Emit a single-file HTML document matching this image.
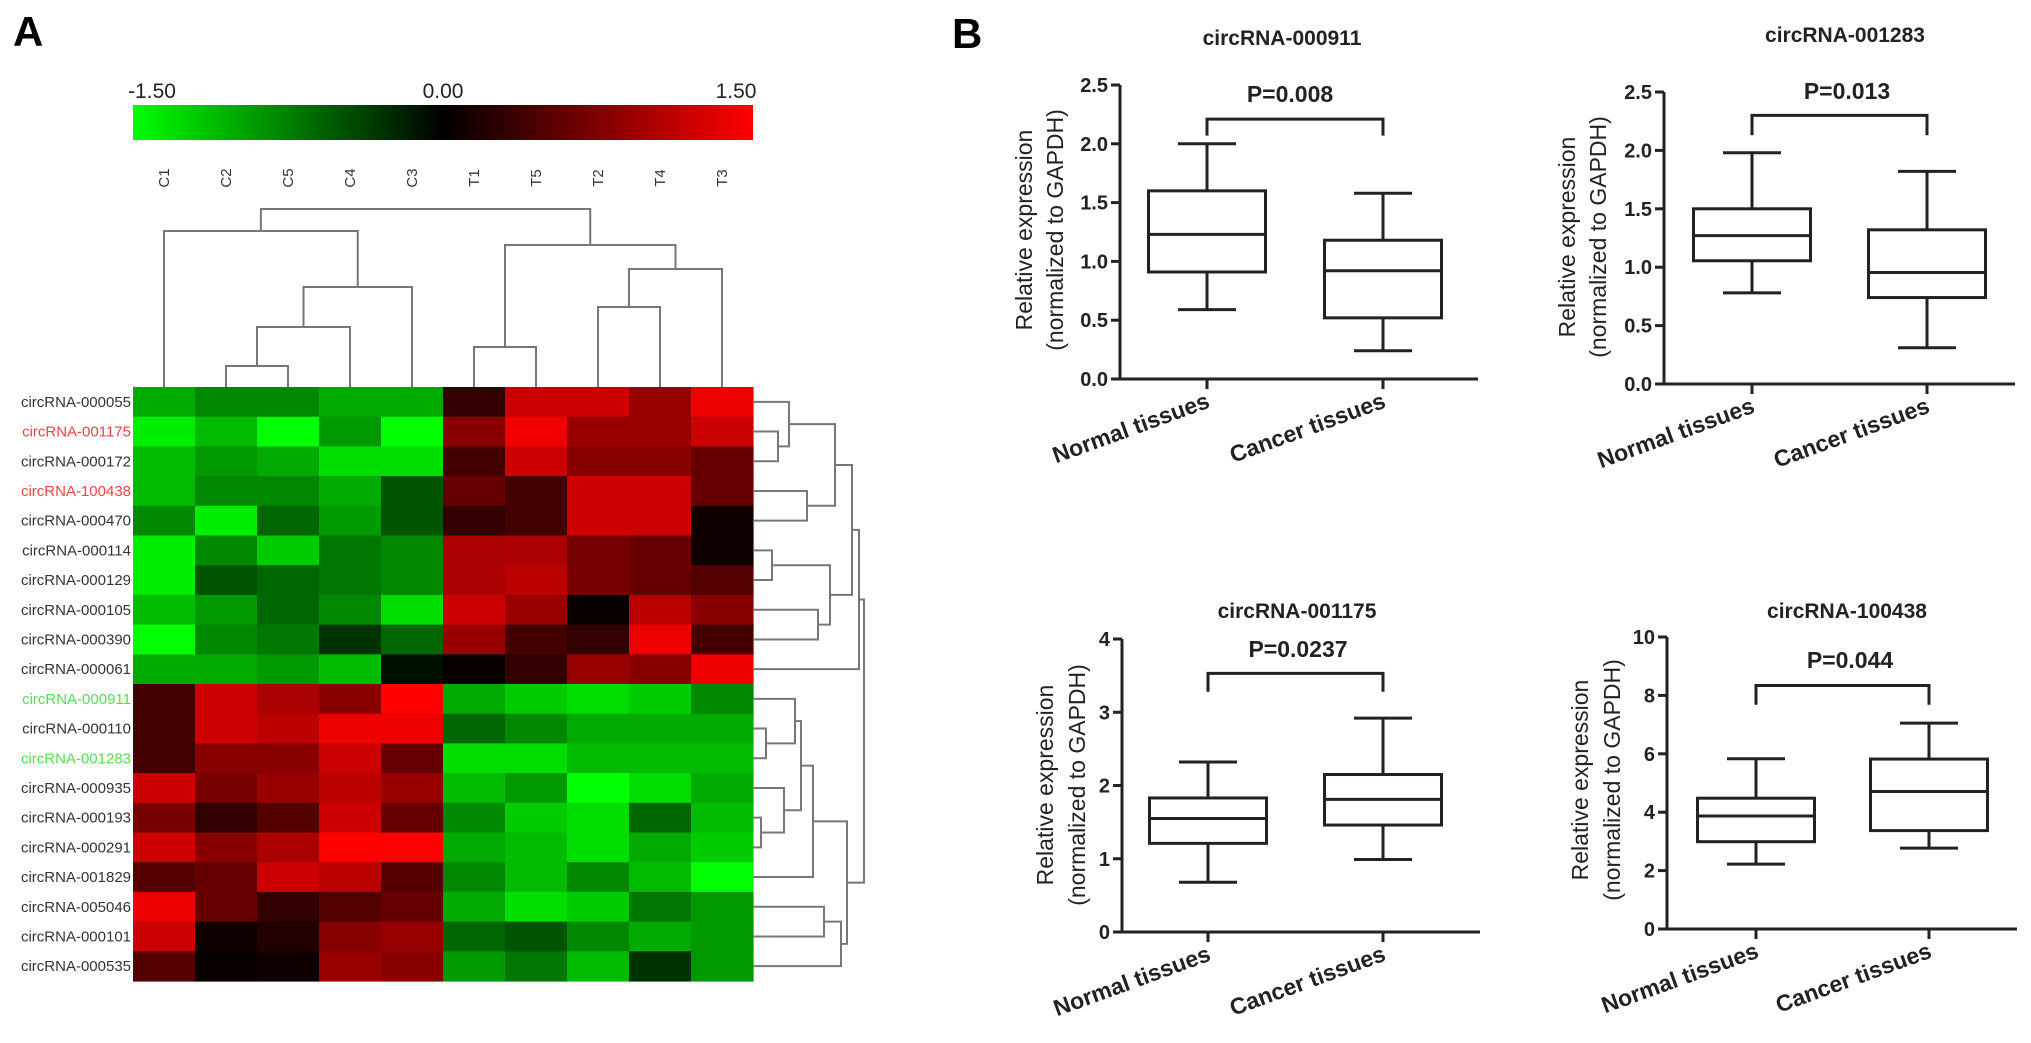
<!DOCTYPE html>
<html><head><meta charset="utf-8"><style>
html,body{margin:0;padding:0;background:#fff;}
svg{display:block;}
text{font-family:"Liberation Sans",Arial,sans-serif;}
</style></head>
<body>
<svg id="fig" width="2031" height="1043" viewBox="0 0 2031 1043" xmlns="http://www.w3.org/2000/svg">
<defs>
<linearGradient id="cbar" x1="0" x2="1" y1="0" y2="0">
<stop offset="0" stop-color="#00ff00"/><stop offset="0.5" stop-color="#000000"/><stop offset="1" stop-color="#ff0000"/>
</linearGradient>
</defs>
<text x="13" y="46" font-size="42" font-weight="bold">A</text>
<text x="952" y="48" font-size="42" font-weight="bold">B</text>
<g>
<rect x="133" y="105" width="620" height="35" fill="url(#cbar)"/>
<text x="152" y="98" font-size="21" text-anchor="middle" fill="#222">-1.50</text>
<text x="443" y="98" font-size="21" text-anchor="middle" fill="#222">0.00</text>
<text x="736" y="98" font-size="21" text-anchor="middle" fill="#222">1.50</text>
</g>
<g id="heat"></g>
<g id="boxes"></g>
</svg>
<script>
// ---------- Heatmap data ----------
const colNames = ["C1","C2","C5","C4","C3","T1","T5","T2","T4","T3"];
const rowNames = ["circRNA-000055","circRNA-001175","circRNA-000172","circRNA-100438","circRNA-000470","circRNA-000114","circRNA-000129","circRNA-000105","circRNA-000390","circRNA-000061","circRNA-000911","circRNA-000110","circRNA-001283","circRNA-000935","circRNA-000193","circRNA-000291","circRNA-001829","circRNA-005046","circRNA-000101","circRNA-000535"];
const rowColors = ["#333","#ee4444","#333","#ee4444","#333","#333","#333","#333","#333","#333","#55dd55","#333","#55dd55","#333","#333","#333","#333","#333","#333","#333"];
const heatValues = [
[-1.0,-0.8,-0.8,-1.0,-1.0,0.3,1.2,1.2,0.9,1.4],
[-1.4,-1.1,-1.5,-0.9,-1.5,0.8,1.4,0.9,0.9,1.2],
[-1.1,-0.9,-1.0,-1.3,-1.3,0.4,1.2,0.8,0.8,0.6],
[-1.1,-0.8,-0.8,-1.0,-0.5,0.6,0.4,1.2,1.2,0.6],
[-0.8,-1.4,-0.6,-0.9,-0.5,0.3,0.4,1.2,1.2,0.1],
[-1.4,-0.8,-1.2,-0.7,-0.8,1.0,1.0,0.7,0.6,0.1],
[-1.4,-0.5,-0.6,-0.7,-0.8,1.0,1.1,0.7,0.6,0.5],
[-1.1,-0.9,-0.6,-0.8,-1.3,1.2,0.9,0.05,1.1,0.8],
[-1.5,-0.8,-0.7,-0.3,-0.6,0.9,0.4,0.3,1.4,0.4],
[-1.0,-1.0,-0.9,-1.1,-0.1,0.05,0.3,0.9,0.8,1.4],
[0.4,1.2,1.0,0.8,1.5,-1.0,-1.2,-1.3,-1.2,-0.8],
[0.4,1.2,1.1,1.4,1.4,-0.6,-0.8,-1.0,-1.0,-1.0],
[0.4,0.8,0.8,1.2,0.6,-1.3,-1.3,-1.1,-1.1,-1.1],
[1.2,0.7,0.9,1.1,0.9,-1.1,-0.9,-1.5,-1.3,-1.0],
[0.7,0.3,0.5,1.2,0.6,-0.8,-1.2,-1.3,-0.6,-1.1],
[1.2,0.8,1.0,1.5,1.5,-1.0,-1.1,-1.3,-1.0,-1.2],
[0.5,0.6,1.2,1.1,0.5,-0.8,-1.1,-0.8,-1.1,-1.5],
[1.4,0.6,0.3,0.5,0.6,-1.0,-1.3,-1.2,-0.7,-0.9],
[1.2,0.1,0.2,0.8,0.9,-0.6,-0.5,-0.8,-1.0,-0.9],
[0.5,0.05,0.1,0.9,0.8,-0.9,-0.7,-1.1,-0.3,-0.9]
];
// dendrogram merges: [childA, childB] (leaf index or "n"+k), merge heights
const colMerges = [[1,2],["n0",3],["n1",4],[0,"n2"],[5,6],[7,8],["n5",9],["n4","n6"],["n3","n7"]];
const colHeights = [366,327,287,231,347,307,269,245,209];
const rowMerges = [[1,2],[0,"n0"],[3,4],["n1","n2"],[5,6],[7,8],["n4","n5"],["n3","n6"],["n7",9],[11,12],[10,"n9"],[14,15],[13,"n11"],["n10","n12"],["n13",16],[17,18],["n15",19],["n14","n16"],["n8","n17"]];
const rowHeights = [778,789,807,835,772,818,830,852,859,766,795,761,784,801,813,824,841,847,864];

// ---------- Box plot data ----------
const groupNames = ["Normal tissues","Cancer tissues"];
const panelTitles = ["circRNA-000911","circRNA-001283","circRNA-001175","circRNA-100438"];
const pLabels = ["P=0.008","P=0.013","P=0.0237","P=0.044"];
const normalStats = [[0.59,0.91,1.23,1.60,2.0],[0.78,1.055,1.27,1.50,1.98],[0.68,1.21,1.55,1.83,2.32],[2.22,2.99,3.87,4.48,5.83]];
const cancerStats = [[0.24,0.52,0.92,1.18,1.58],[0.31,0.74,0.955,1.32,1.82],[0.99,1.46,1.81,2.15,2.92],[2.77,3.37,4.71,5.82,7.05]];
const bracketTop = [2.21,2.30,3.53,8.34];
const bracketBottom = [2.07,2.13,3.28,7.68];
const yMax = [2.5,2.5,4,10];
const yTickValues = [[0,0.5,1,1.5,2,2.5],[0,0.5,1,1.5,2,2.5],[0,1,2,3,4],[0,2,4,6,8,10]];
const yTickLabels = [["0.0","0.5","1.0","1.5","2.0","2.5"],["0.0","0.5","1.0","1.5","2.0","2.5"],["0","1","2","3","4"],["0","2","4","6","8","10"]];

const NS="http://www.w3.org/2000/svg";
function mk(tag, attrs, parent){const e=document.createElementNS(NS,tag);for(const k in attrs)e.setAttribute(k,attrs[k]);parent.appendChild(e);return e;}

// ---------- Heatmap ----------
const heat=document.getElementById('heat');
const HX=133, HY=387, CW=62, RH=29.7;
const colX=i=>HX+CW*(i+0.5);
const rowY=i=>HY+RH*(i+0.5);
function colorOf(v){const t=Math.max(-1,Math.min(1,v/1.5));if(t<0)return `rgb(0,${Math.round(-t*255)},0)`;return `rgb(${Math.round(t*255)},0,0)`;}
heatValues.forEach((row,r)=>{
  row.forEach((v,c)=>{
    const cell=mk('rect',{x:HX+CW*c,y:HY+RH*r,width:CW+0.6,height:RH+0.6,fill:colorOf(v)},heat);
    
    
  });
  const t=mk('text',{x:HX-2,y:rowY(r)+5,'font-size':15,'text-anchor':'end',fill:rowColors[r]},heat);
  t.textContent=rowNames[r];
  
  
});
colNames.forEach((n,c)=>{
  const t=mk('text',{x:0,y:0,'font-size':15,'text-anchor':'middle',fill:'#333',transform:`translate(${colX(c)+5},178) rotate(-90)`},heat);
  t.textContent=n;
  
  
});
function drawTree(merges, heights, leafPos, base, vertical){
  const pos={};
  const get=k=>typeof k==='number'?{p:leafPos(k),h:base}:pos[k];
  merges.forEach((m,i)=>{
    const a=get(m[0]), b=get(m[1]), h=heights[i];
    let d;
    if(vertical){ d=`M${a.p},${a.h}V${h}H${b.p}V${b.h}`; }
    else { d=`M${a.h},${a.p}H${h}V${b.p}H${b.h}`; }
    const p=mk('path',{d:d,fill:'none',stroke:'#777','stroke-width':2},heat);
    
    
    pos['n'+i]={p:(a.p+b.p)/2,h:h};
  });
}
drawTree(colMerges,colHeights,colX,HY,true);
drawTree(rowMerges,rowHeights,rowY,HX+CW*10,false);

// ---------- Box plots ----------
const boxes=document.getElementById('boxes');
const layout=[
 {ax:1120,y0:379,yTop:85,xEnd:1478,tx:[1207,1383],title:[1282,45],p:[1290,102],yl:[1024,1055],ycy:230},
 {ax:1664,y0:384,yTop:92,xEnd:2015,tx:[1752,1927],title:[1845,42],p:[1847,99],yl:[1567,1598],ycy:237},
 {ax:1122,y0:932,yTop:639,xEnd:1480,tx:[1208,1383],title:[1297,618],p:[1298,657],yl:[1045,1077],ycy:785},
 {ax:1667,y0:929,yTop:637,xEnd:2017,tx:[1756,1929],title:[1847,618],p:[1850,668],yl:[1580,1612],ycy:780}
];
const panelNames=['plot-circrna-000911','plot-circrna-001283','plot-circrna-001175','plot-circrna-100438'];
layout.forEach((L,k)=>{
  const g=mk('g',{},boxes);
  
  
  const ys=v=>L.y0-(v/yMax[k])*(L.y0-L.yTop);
  const line=(x1,y1,x2,y2,name)=>{const l=mk('line',{x1,y1,x2,y2,stroke:'#222','stroke-width':3},g);return l;};
  const tt=mk('text',{x:L.title[0],y:L.title[1],'font-size':21,'font-weight':'bold','text-anchor':'middle',fill:'#222'},g);
  tt.textContent=panelTitles[k];
  
  
  line(L.ax,ys(yMax[k]),L.ax,L.y0+1.5,'y-axis');
  line(L.ax,L.y0,L.xEnd,L.y0,'x-axis');
  yTickValues[k].forEach((v,i)=>{
    line(L.ax-9,ys(v),L.ax,ys(v),'y-tick');
    const t=mk('text',{x:L.ax-12,y:ys(v)+7,'font-size':20,'font-weight':'bold','text-anchor':'end',fill:'#222'},g);
    t.textContent=yTickLabels[k][i];
    
    
  });
  const yl=mk('text',{x:0,y:0,'font-size':23,'text-anchor':'middle',fill:'#222',transform:`translate(${L.yl[0]+8},${L.ycy}) rotate(-90)`},g);
  yl.textContent='Relative expression';
  
  
  const yl2=mk('text',{x:0,y:0,'font-size':23,'text-anchor':'middle',fill:'#222',transform:`translate(${L.yl[1]+8},${L.ycy}) rotate(-90)`},g);
  yl2.textContent='(normalized to GAPDH)';
  
  
  [normalStats[k],cancerStats[k]].forEach((s,gi)=>{
    const cx=L.tx[gi];
    line(cx,L.y0,cx,L.y0+10,'x-tick');
    const xl=mk('text',{x:0,y:0,'font-size':23,'font-weight':'bold','text-anchor':'end',fill:'#222',transform:`translate(${cx+4},${L.y0+28}) rotate(-20)`},g);
    xl.textContent=groupNames[gi];
    
    
    line(cx,ys(s[0]),cx,ys(s[1]),'lower-whisker');
    line(cx,ys(s[3]),cx,ys(s[4]),'upper-whisker');
    line(cx-29,ys(s[0]),cx+29,ys(s[0]),'whisker-cap-min');
    line(cx-29,ys(s[4]),cx+29,ys(s[4]),'whisker-cap-max');
    const r=mk('rect',{x:cx-58.5,y:ys(s[3]),width:117,height:ys(s[1])-ys(s[3]),fill:'none',stroke:'#222','stroke-width':3},g);
    
    
    line(cx-58.5,ys(s[2]),cx+58.5,ys(s[2]),'median-line');
  });
  const br=mk('path',{d:`M${L.tx[0]},${ys(bracketBottom[k])}V${ys(bracketTop[k])}H${L.tx[1]}V${ys(bracketBottom[k])}`,fill:'none',stroke:'#222','stroke-width':3},g);
  
  
  const pt=mk('text',{x:L.p[0],y:L.p[1],'font-size':23,'font-weight':'bold','text-anchor':'middle',fill:'#222'},g);
  pt.textContent=pLabels[k];
  
  
});
</script>
</body></html>
